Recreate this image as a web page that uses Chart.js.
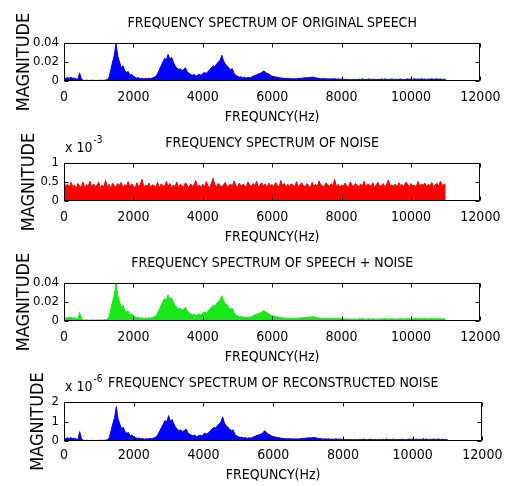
<!DOCTYPE html>
<html><head><meta charset="utf-8">
<script src="https://cdn.jsdelivr.net/npm/chart.js@4.4.0/dist/chart.umd.min.js"></script>
<style>
html,body{margin:0;padding:0;background:#fff;}
body{width:508px;height:486px;position:relative;overflow:hidden;}
canvas{position:absolute;left:0;}
</style></head><body>
<canvas id="c1"></canvas><canvas id="c2"></canvas><canvas id="c3"></canvas><canvas id="c4"></canvas>
<script>
// frequency bin width of the spectra (Hz); bins start at 0 Hz
const BIN_HZ = 50;
const xTickValues = [0, 2000, 4000, 6000, 8000, 10000, 12000];
const titles = [
  'FREQUENCY SPECTRUM OF ORIGINAL SPEECH',
  'FREQUENCY SPECTRUM OF NOISE',
  'FREQUENCY SPECTRUM OF SPEECH + NOISE',
  'FREQUENCY SPECTRUM OF RECONSTRUCTED NOISE'
];
const xAxisTitle = 'FREQUNCY(Hz)';
const yAxisTitle = 'MAGNITUDE';

// original speech magnitude
const speech = [
 .001,.003,.0035,.003,.0038,.0028,.0032,.0022,.0018,.0085,
 .0025,.0008,.0006,.0009,.0005,.0007,.0006,.0008,.0005,.0007,
 .0006,.0009,.0006,.0008,.001,.0015,.004,.012,.02,.027,
 .04,.026,.02,.014,.016,.011,.009,.01,.006,.007,
 .005,.004,.003,.0035,.0025,.003,.002,.0028,.0022,.003,
 .0025,.0032,.004,.005,.008,.012,.016,.02,.024,.022,
 .028,.023,.025,.02,.016,.014,.012,.013,.011,.012,
 .014,.01,.008,.007,.006,.007,.005,.006,.007,.006,
 .008,.009,.008,.01,.012,.014,.016,.015,.018,.02,
 .022,.027,.021,.018,.016,.014,.012,.013,.008,.006,
 .005,.004,.0045,.0035,.004,.003,.0038,.0035,.004,.005,
 .006,.0065,.0075,.008,.009,.0105,.0095,.008,.0075,.006,
 .005,.0048,.0042,.004,.0035,.0032,.003,.0028,.0025,.0028,
 .0024,.0026,.0022,.0025,.0023,.0026,.0028,.003,.0032,.0035,
 .0033,.0038,.0036,.0042,.0038,.0035,.003,.0028,.0025,.0023,
 .0026,.0022,.0024,.002,.0023,.0021,.0025,.002,.0022,.0019,
 .0021,.0018,.0016,.0019,.0015,.0017,.0014,.0018,.0016,.0015,
 .0019,.0016,.0022,.0017,.0015,.0018,.0021,.0016,.0019,.0017,
 .0015,.0018,.0016,.002,.0017,.0022,.0018,.0016,.0019,.0021,
 .0017,.0019,.0015,.0018,.0021,.0017,.0016,.0019,.0022,.0018,
 .002,.0017,.0023,.0019,.0021,.0018,.0024,.0019,.0022,.0017,
 .0021,.0019,.0023,.0018,.002,.0022,.0019,.0021,.0017,.0019,.0018
];
// noise magnitude, in units of 1e-3
const noise = [
 .47,.40,.44,.35,.49,.38,.42,.33,.46,.39,
 .37,.50,.34,.43,.40,.52,.36,.45,.38,.41,
 .49,.35,.42,.38,.54,.37,.44,.33,.47,.40,
 .36,.46,.41,.49,.34,.43,.39,.51,.37,.45,
 .40,.33,.48,.38,.44,.57,.36,.42,.39,.47,
 .35,.43,.40,.37,.49,.34,.45,.41,.38,.52,
 .39,.46,.36,.42,.38,.50,.35,.44,.40,.37,
 .48,.41,.34,.45,.39,.43,.54,.37,.42,.36,
 .44,.38,.51,.40,.35,.47,.60,.42,.38,.46,
 .41,.37,.43,.49,.36,.40,.45,.38,.53,.42,
 .35,.47,.39,.44,.41,.37,.50,.43,.38,.46,
 .40,.52,.36,.42,.48,.39,.45,.35,.47,.41,
 .43,.38,.49,.41,.36,.54,.40,.46,.37,.44,
 .39,.45,.42,.38,.51,.36,.43,.48,.40,.37,
 .46,.41,.35,.49,.39,.44,.38,.53,.42,.40,
 .37,.48,.43,.39,.45,.41,.57,.38,.44,.36,
 .42,.39,.47,.40,.36,.50,.43,.38,.46,.41,
 .38,.44,.40,.52,.37,.45,.42,.39,.48,.35,
 .43,.49,.38,.41,.46,.37,.44,.55,.40,.42,
 .39,.45,.36,.48,.41,.43,.38,.50,.44,.37,
 .46,.40,.42,.37,.51,.39,.45,.41,.47,.38,
 .44,.40,.49,.37,.43,.46,.39,.52,.41,.45,.42
];
// speech + noise magnitude
const speechNoise = [
 .0014,.0033,.0036,.0034,.0041,.003,.0035,.0026,.0022,.0088,
 .0029,.0012,.0009,.0013,.0008,.0011,.0009,.0012,.0008,.0011,
 .001,.0013,.0009,.0012,.0014,.0019,.0044,.0125,.0205,.0275,
 .0395,.0265,.0205,.0145,.0165,.0115,.0095,.0105,.0065,.0074,
 .0054,.0044,.0034,.0039,.0029,.0034,.0024,.0032,.0026,.0034,
 .0029,.0036,.0044,.0054,.0084,.0124,.0165,.0205,.0235,.0225,
 .0275,.0235,.0245,.0205,.0165,.0145,.0124,.0134,.0114,.0124,
 .0144,.0104,.0084,.0074,.0064,.0074,.0054,.0064,.0074,.0064,
 .0084,.0094,.0084,.0104,.0124,.0144,.0165,.0155,.0185,.0205,
 .0225,.0265,.0215,.0185,.0165,.0145,.0124,.0134,.0084,.0064,
 .0054,.0044,.0049,.0039,.0044,.0034,.0042,.0039,.0044,.0054,
 .0064,.0069,.0079,.0084,.0094,.0108,.0099,.0084,.0079,.0064,
 .0054,.0052,.0046,.0044,.0039,.0036,.0034,.0032,.0029,.0032,
 .0028,.003,.0026,.0029,.0027,.003,.0032,.0034,.0036,.0039,
 .0037,.0042,.004,.0046,.0042,.0039,.0034,.0032,.0029,.0027,
 .003,.0026,.0028,.0024,.0027,.0025,.0029,.0024,.0026,.0023,
 .0025,.0022,.002,.0023,.0019,.0021,.0018,.0022,.002,.0019,
 .0023,.002,.0026,.0021,.0019,.0022,.0025,.002,.0023,.0021,
 .0019,.0022,.002,.0024,.0021,.0026,.0022,.002,.0023,.0025,
 .0021,.0023,.0019,.0022,.0025,.0021,.002,.0023,.0026,.0022,
 .0024,.0021,.0027,.0023,.0025,.0022,.0028,.0023,.0026,.0021,
 .0025,.0023,.0027,.0022,.0024,.0026,.0023,.0025,.0021,.0023,.0022
];
// reconstructed magnitude, in units of 1e-6
const reconstructed = [
 .05,.14,.16,.13,.17,.12,.14,.1,.08,.48,
 .11,.035,.027,.04,.022,.031,.026,.035,.022,.03,
 .026,.04,.027,.035,.044,.066,.18,.53,.88,1.19,
 1.76,1.14,.88,.62,.7,.48,.4,.44,.26,.31,
 .22,.18,.13,.15,.11,.13,.09,.12,.1,.13,
 .11,.14,.18,.22,.35,.53,.7,.88,1.06,.97,
 1.3,1.01,1.1,.88,.7,.62,.53,.57,.48,.53,
 .62,.44,.35,.31,.26,.31,.22,.26,.31,.26,
 .35,.4,.35,.44,.53,.62,.7,.66,.79,.88,
 .97,1.24,.92,.79,.7,.62,.53,.57,.35,.26,
 .22,.18,.2,.15,.18,.13,.17,.15,.18,.22,
 .26,.29,.33,.35,.4,.52,.46,.35,.33,.26,
 .22,.21,.18,.18,.15,.14,.13,.12,.11,.12,
 .11,.11,.1,.11,.1,.11,.12,.13,.14,.15,
 .15,.17,.16,.18,.17,.15,.13,.12,.11,.1,
 .11,.1,.11,.09,.1,.09,.11,.09,.1,.08,
 .09,.08,.07,.08,.07,.08,.06,.08,.07,.07,
 .08,.07,.1,.07,.07,.08,.09,.07,.08,.07,
 .07,.08,.07,.09,.07,.1,.08,.07,.08,.09,
 .07,.08,.07,.08,.09,.07,.07,.08,.1,.08,
 .09,.07,.1,.08,.09,.08,.11,.08,.1,.07,
 .09,.08,.1,.08,.09,.1,.08,.09,.07,.08,.08
];
// y tick values per panel (noise in 1e-3, reconstructed in 1e-6)
const yTicks = [
  [0, 0.02, 0.04],
  [0, 0.5, 1],
  [0, 0.02, 0.04],
  [0, 1, 2]
];
const yExponent = [null, '-3', null, '-6'];

const FONT = "'DejaVu Sans Condensed','DejaVu Sans',sans-serif";
const FS = 14;

// layout (pixels)
const PLOT_L = 64, PLOT_R = 486, W = 508;
const panels = [
  {top:0,   cTop:43,  cBot:81,  titleY:23,  tickY:97,  xTitleY:117, yTitleX:24, expY:0},
  {top:120, cTop:163, cBot:201, titleY:143, tickY:217, xTitleY:237, yTitleX:29, expY:148},
  {top:240, cTop:283, cBot:321, titleY:263, tickY:337, xTitleY:357, yTitleX:24, expY:0},
  {top:362, cTop:402, cBot:441, titleY:383, tickY:455, xTitleY:475, yTitleX:38, expY:387}
];
const seriesList = [speech, noise, speechNoise, reconstructed];
const colors = ['#0000ff', '#ff0000', '#18e818', '#0000ff'];

const boxPlugin = {
  id: 'matlabBox',
  afterDatasetsDraw(chart, args, opts) {
    const {ctx, chartArea: a} = chart;
    const xs = chart.scales.x, ys = chart.scales.y;
    ctx.save();
    ctx.strokeStyle = '#000';
    ctx.lineWidth = 1;
    const L = Math.round(a.left) + 0.5, R = Math.round(a.right) - 0.5;
    const T = Math.round(a.top) + 0.5, B = Math.round(a.bottom) - 0.5;
    ctx.beginPath();
    ctx.rect(L, T, R - L, B - T);
    const tl = 4;
    xs.ticks.forEach(t => {
      const px = Math.round(xs.getPixelForValue(t.value)) + 0.5;
      ctx.moveTo(px, B); ctx.lineTo(px, B - tl);
      ctx.moveTo(px, T); ctx.lineTo(px, T + tl);
    });
    ys.ticks.forEach(t => {
      const py = Math.round(ys.getPixelForValue(t.value)) + 0.5;
      ctx.moveTo(L, py); ctx.lineTo(L + tl, py);
      ctx.moveTo(R, py); ctx.lineTo(R - tl, py);
    });
    ctx.stroke();
    if (opts.exponent) {
      ctx.fillStyle = '#000';
      ctx.textBaseline = 'middle';
      ctx.textAlign = 'left';
      ctx.font = FS + 'px ' + FONT;
      const x0 = a.left + 1;
      const base = 'x 10';
      ctx.fillText(base, x0, opts.expY);
      const w = ctx.measureText(base).width;
      ctx.font = '10px ' + FONT;
      ctx.fillText(opts.exponent, x0 + w + 1, opts.expY - 8);
    }
    ctx.restore();
  }
};

panels.forEach((p, k) => {
  const H = p.xTitleY - p.top + 14;
  const lh = FS * 1.2;
  const cv = document.getElementById('c' + (k + 1));
  cv.width = W; cv.height = H;
  cv.style.top = p.top + 'px';
  cv.style.width = W + 'px'; cv.style.height = H + 'px';
  const series = seriesList[k];
  const pts = series.map((v, i) => ({x: i * BIN_HZ, y: v}));
  const yt = yTicks[k];
  new Chart(cv, {
    type: 'line',
    data: {datasets: [{
      data: pts,
      borderColor: colors[k],
      backgroundColor: colors[k],
      borderWidth: 1,
      fill: 'origin',
      pointRadius: 0,
      tension: 0
    }]},
    options: {
      responsive: false,
      animation: false,
      devicePixelRatio: 1,
      layout: {padding: {left: 0, right: W - PLOT_R, top: 0, bottom: 0}},
      plugins: {
        legend: {display: false},
        tooltip: {enabled: false},
        title: {
          display: true, text: titles[k], color: '#000', fullSize: false,
          font: {family: FONT, size: FS, weight: 'normal', lineHeight: 1.2},
          padding: {top: p.titleY - p.top - lh / 2, bottom: p.cTop - p.titleY - lh / 2}
        },
        matlabBox: {exponent: yExponent[k] ? yExponent[k] : null, expY: p.expY - p.top}
      },
      scales: {
        x: {
          type: 'linear', min: 0, max: 12000,
          afterFit: s => { s.height = H - (p.cBot - p.top); },
          afterBuildTicks: s => { s.ticks = xTickValues.map(v => ({value: v})); },
          grid: {display: false, drawTicks: false}, border: {display: false},
          ticks: {
            color: '#000', padding: p.tickY - p.cBot - lh / 2, maxRotation: 0, autoSkip: false,
            font: {family: FONT, size: FS, lineHeight: 1.2},
            callback: v => String(v)
          },
          title: {
            display: true, text: xAxisTitle, color: '#000',
            font: {family: FONT, size: FS, lineHeight: 1.2},
            padding: {top: 0, bottom: 14 - lh / 2}
          }
        },
        y: {
          min: yt[0], max: yt[yt.length - 1],
          afterFit: s => { s.width = PLOT_L; },
          afterBuildTicks: s => { s.ticks = yt.map(v => ({value: v})); },
          grid: {display: false, drawTicks: false}, border: {display: false},
          ticks: {
            color: '#000', padding: 5, autoSkip: false,
            font: {family: FONT, size: 13, lineHeight: 1.2},
            callback: v => String(v)
          },
          title: {
            display: true, text: yAxisTitle, color: '#000',
            font: {family: FONT, size: 18, lineHeight: 1.2},
            padding: {top: p.yTitleX - 10.8, bottom: 0}
          }
        }
      }
    },
    plugins: [boxPlugin]
  });
});
</script>
</body></html>
